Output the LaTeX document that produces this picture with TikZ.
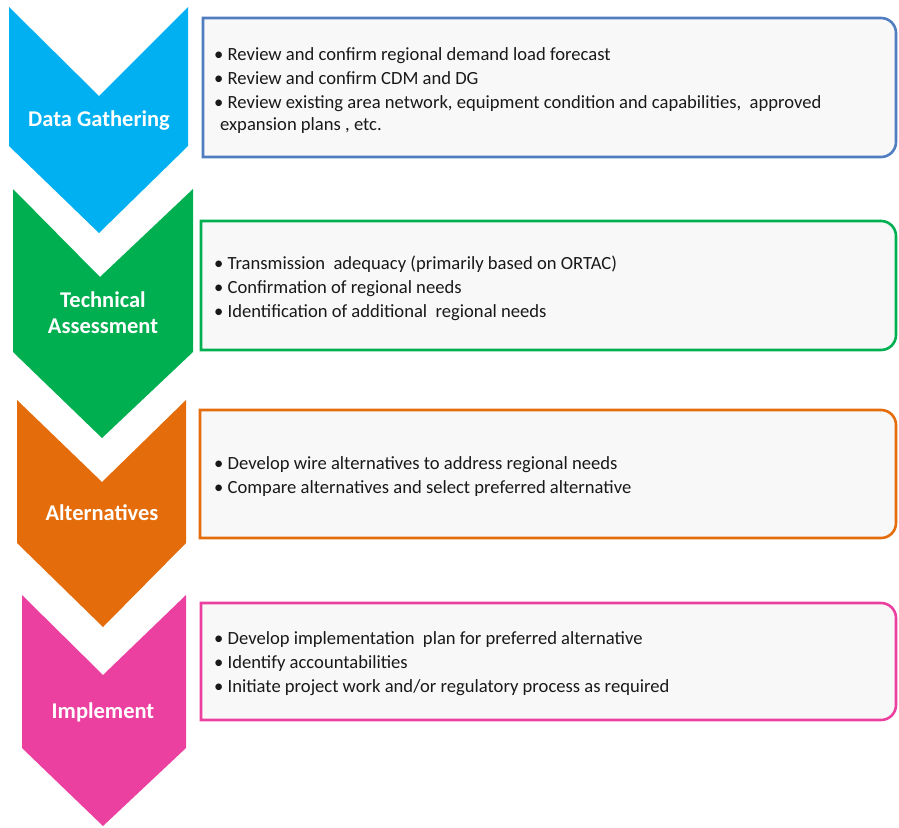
\documentclass[tikz,border=0pt]{standalone}
\usepackage{fontspec}
\setmainfont{Carlito}

\definecolor{gatherblue}{HTML}{00B0F0}
\definecolor{assessgreen}{HTML}{00B050}
\definecolor{altorange}{HTML}{E46C0A}
\definecolor{implpink}{HTML}{EC40A0}
\definecolor{boxblue}{HTML}{4F7DC0}
\definecolor{boxfill}{HTML}{F8F8F8}

\tikzset{
  chevlabel/.style={text=white, font=\fontsize{22.5}{26}\selectfont\bfseries, align=center},
  infobox/.style={line width=2.6pt, fill=boxfill},
  itemtext/.style={anchor=west, align=left, text=black!90, font=\fontsize{18.6}{24}\selectfont, inner sep=0pt}
}

\begin{document}
\begin{tikzpicture}[x=1pt, y=-1pt]
  \useasboundingbox (0,0) rectangle (899,827);

  % Data Gathering
  \fill[gatherblue] (9,7) -- (99,96) -- (188,7) -- (188,146) -- (99,233) -- (9,146) -- cycle;
  \node[chevlabel] (gather) at (99,121) {Data Gathering};
  \draw[infobox, draw=boxblue] (203,157) -- (203,18) -- (600,18) [rounded corners=15] -- (896,18) -- (896,157) -- (600,157) [sharp corners] -- cycle;
  \node[itemtext] (gathertext) at (214,91) {%
    \textbullet\ Review and confirm regional demand load forecast\\
    \textbullet\ Review and confirm CDM and DG\\
    \textbullet\ Review existing area network, equipment condition and capabilities,\ \ approved\\[-2pt]
    \hspace{6pt}expansion plans , etc.};

  % Technical Assessment
  \fill[assessgreen] (13,189) -- (100,277) -- (193,189) -- (193,352) -- (102,438) -- (13,352) -- cycle;
  \node[chevlabel] (assess) at (103,313) {Technical\\Assessment};
  \draw[infobox, draw=assessgreen] (201,350) -- (201,221) -- (600,221) [rounded corners=15] -- (896,221) -- (896,350) -- (600,350) [sharp corners] -- cycle;
  \node[itemtext] (assesstext) at (214,288) {%
    \textbullet\ Transmission\ \ adequacy (primarily based on ORTAC)\\
    \textbullet\ Confirmation of regional needs\\
    \textbullet\ Identification of additional\ \ regional needs};

  % Alternatives
  \fill[altorange] (17,400) -- (102,482) -- (186,400) -- (186,543) -- (103,627) -- (17,543) -- cycle;
  \node[chevlabel] (alt) at (102,513) {Alternatives};
  \draw[infobox, draw=altorange] (200,538) -- (200,410) -- (600,410) [rounded corners=15] -- (896,410) -- (896,538) -- (600,538) [sharp corners] -- cycle;
  \node[itemtext] (alttext) at (214,477) {%
    \textbullet\ Develop wire alternatives to address regional needs\\
    \textbullet\ Compare alternatives and select preferred alternative};

  % Implement
  \fill[implpink] (22,595) -- (103,675) -- (186,595) -- (186,748) -- (103,826) -- (22,748) -- cycle;
  \node[chevlabel] (impl) at (103,712) {Implement};
  \draw[infobox, draw=implpink] (201,720) -- (201,603) -- (600,603) [rounded corners=15] -- (896,603) -- (896,720) -- (600,720) [sharp corners] -- cycle;
  \node[itemtext] (impltext) at (214,664) {%
    \textbullet\ Develop implementation\ \ plan for preferred alternative\\
    \textbullet\ Identify accountabilities\\
    \textbullet\ Initiate project work and/or regulatory process as required};
\end{tikzpicture}
\end{document}
